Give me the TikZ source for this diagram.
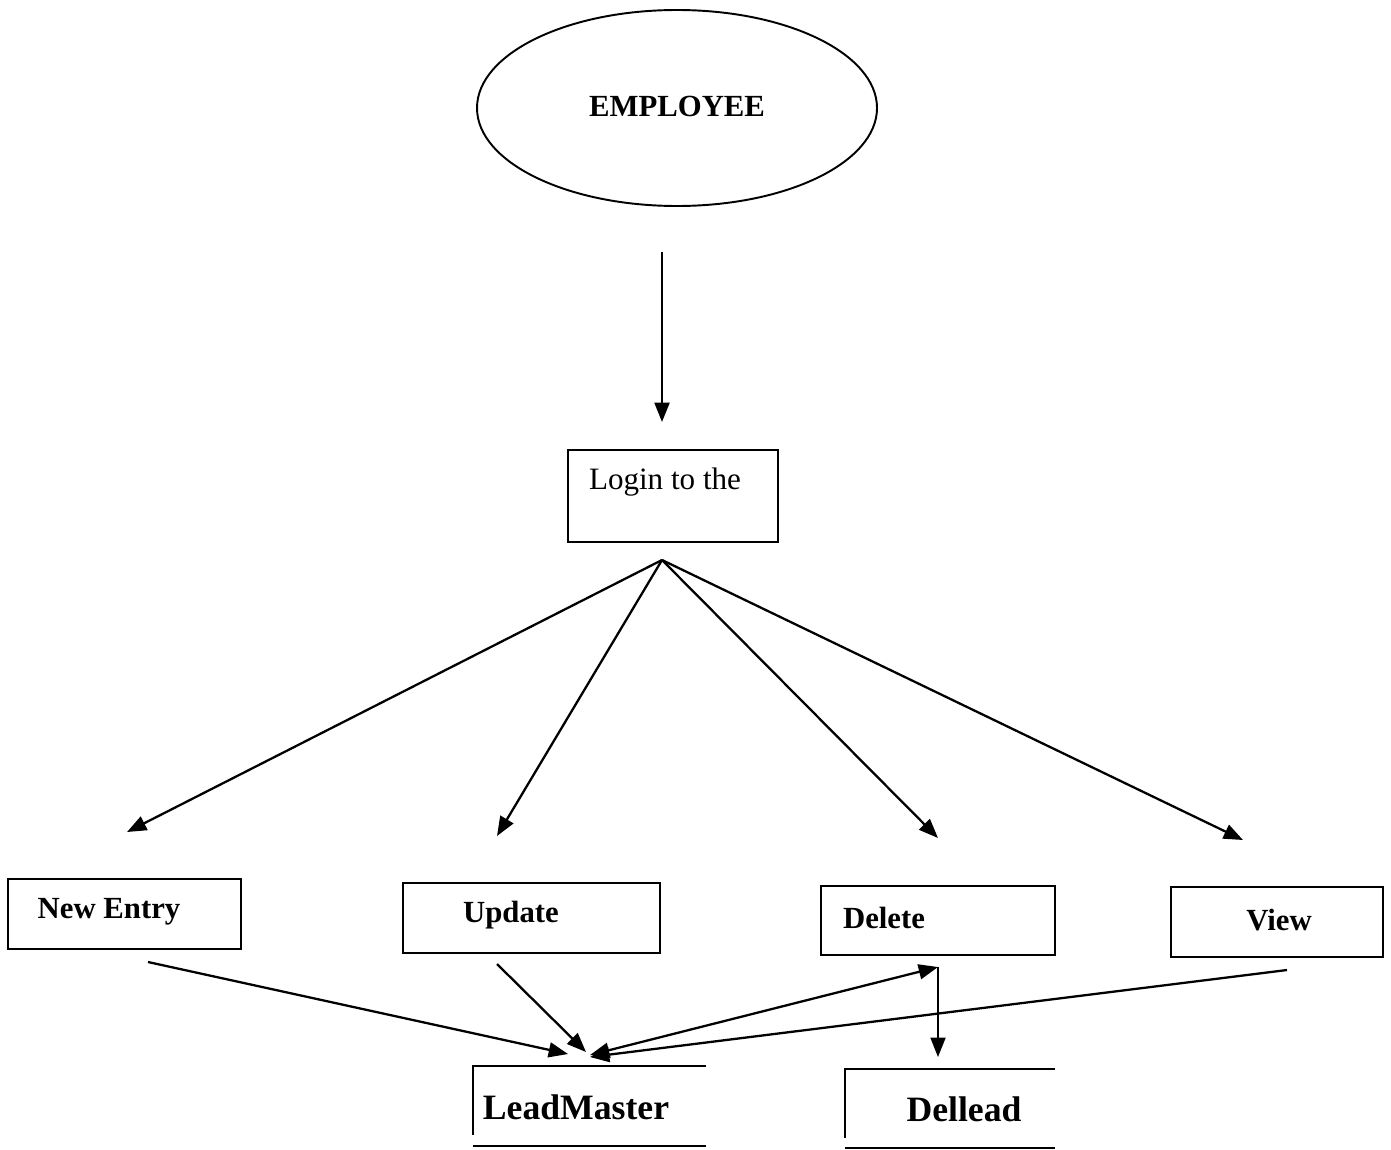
\documentclass[tikz,border=0pt]{standalone}
\usepackage{fontspec}
\setmainfont{Liberation Serif}
\usetikzlibrary{arrows.meta,shapes.geometric}
\begin{document}
\begin{tikzpicture}[x=0.02cm,y=-0.02cm,
  line width=1.3pt,
  arr/.style={-{Triangle[length=11pt,width=8.5pt]}},
  barr/.style={{Triangle[length=11pt,width=8.5pt]}-{Triangle[length=11pt,width=8.5pt]}},
  box/.style={draw,rectangle,inner sep=0pt,line width=1.1pt},
  lbl/.style={font=\fontsize{17.5}{20}\selectfont\bfseries,inner sep=0pt},
  big/.style={font=\fontsize{20.3}{24}\selectfont\bfseries,inner sep=0pt}]
\useasboundingbox (0,0) rectangle (1391,1149);
% employee
\node[draw,ellipse,minimum width=400*0.02cm,minimum height=196*0.02cm,line width=1.1pt] (emp) at (677,108) {};
\node[lbl] (empt) at (677,106) {EMPLOYEE};
\coordinate (e1) at (662,252);
\coordinate (e2) at (662,422);
\draw[arr] (e1) -- (e2);
% login
\node[box,minimum width=210*0.02cm,minimum height=92*0.02cm] (login) at (673,496) {};
\node[font=\fontsize{17.7}{20}\selectfont,inner sep=0pt] (logint) at (665,482) {Login to the};
\coordinate (fan) at (662,560);
% boxes
\node[box,minimum width=233*0.02cm,minimum height=70*0.02cm] (newe) at (124.5,914) {};
\node[lbl] (newt) at (109,912) {New Entry};
\node[box,minimum width=257*0.02cm,minimum height=70*0.02cm] (upd) at (531.5,918) {};
\node[lbl] (updt) at (511,915) {Update};
\node[box,minimum width=234*0.02cm,minimum height=69*0.02cm] (del) at (938,920.5) {};
\node[lbl] (delt) at (884,918) {Delete};
\node[box,minimum width=212*0.02cm,minimum height=70*0.02cm] (view) at (1277,922) {};
\node[lbl] (viewt) at (1279,920) {View};
% fan arrows
\coordinate (t1) at (127,832);
\coordinate (t2) at (497,836);
\coordinate (t3) at (938,838);
\coordinate (t4) at (1243,840);
\draw[arr] (fan) -- (t1);
\draw[arr] (fan) -- (t2);
\draw[arr] (fan) -- (t3);
\draw[arr] (fan) -- (t4);
% bottom boxes (open right side)
\coordinate (lmA) at (706,1066);
\coordinate (lmB) at (473,1066);
\coordinate (lmC) at (473,1135);
\coordinate (lmD) at (473,1146);
\coordinate (lmE) at (706,1146);
\draw[line width=1.1pt] (lmA) -- (lmB) -- (lmC);
\draw[line width=1.4pt] (lmD) -- (lmE);
\node[big] (lm) at (576,1107) {LeadMaster};
\coordinate (dlA) at (1055,1069);
\coordinate (dlB) at (845,1069);
\coordinate (dlC) at (845,1138);
\coordinate (dlD) at (845,1148);
\coordinate (dlE) at (1055,1148);
\draw[line width=1.1pt] (dlA) -- (dlB) -- (dlC);
\draw[line width=1.4pt] (dlD) -- (dlE);
\node[big] (dl) at (964,1109) {Dellead};
% lower arrows
\coordinate (s1) at (148,962);
\coordinate (h1) at (568,1054);
\coordinate (s2) at (497,964);
\coordinate (h2) at (586,1052);
\coordinate (h3) at (590,1055);
\coordinate (d3) at (938,967);
\coordinate (s4) at (1287,970);
\coordinate (h4) at (590,1057);
\coordinate (d5) at (938,1057);
\draw[arr] (s1) -- (h1);
\draw[arr] (s2) -- (h2);
\draw[barr] (h3) -- (d3);
\draw[arr] (s4) -- (h4);
\draw[arr,line width=1pt] (d3) -- (d5);
\end{tikzpicture}
\end{document}
